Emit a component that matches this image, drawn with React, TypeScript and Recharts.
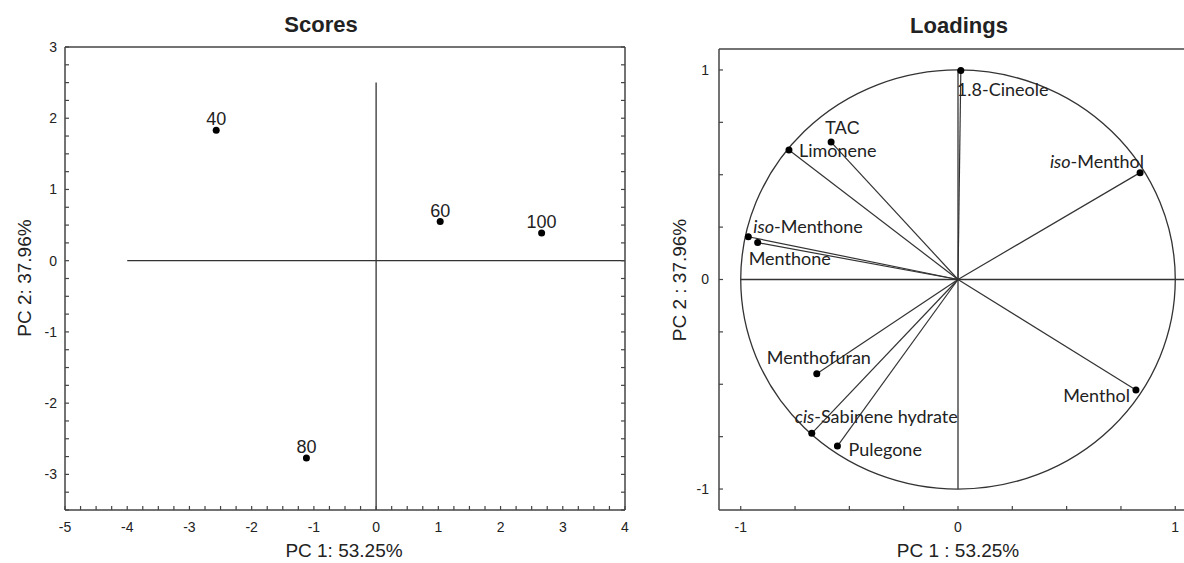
import React from "react";
import {
  ScatterChart,
  Scatter,
  XAxis,
  YAxis,
  ReferenceLine,
  ReferenceArea,
} from "recharts";

// ─── Scores (PCA sample scores) ─────────────────────────────
const scoreLabels = ["40", "60", "80", "100"];
const scorePC1 = [-2.57, 1.03, -1.12, 2.66];
const scorePC2 = [1.83, 0.55, -2.77, 0.39];

const scoreXTicks = [-5, -4, -3, -2, -1, 0, 1, 2, 3, 4];
const scoreYTicks = [-3, -2, -1, 0, 1, 2, 3];

// ─── Loadings (correlation circle) ──────────────────────────
const loadingNames = [
  "1.8-Cineole",
  "TAC",
  "Limonene",
  "iso-Menthone",
  "Menthone",
  "iso-Menthol",
  "Menthofuran",
  "cis-Sabinene hydrate",
  "Pulegone",
  "Menthol",
];
const loadingPC1 = [0.013, -0.584, -0.778, -0.965, -0.922, 0.838, -0.65, -0.673, -0.555, 0.819];
const loadingPC2 = [0.997, 0.656, 0.618, 0.204, 0.176, 0.51, -0.45, -0.734, -0.795, -0.527];

const loadingTicks = [-1, 0, 1];

// ─── Helpers ───────────────────────────────────────────────
const TICK_FONT = "'Liberation Sans', Arial, sans-serif";
const LABEL_FONT = "Lato, 'Open Sans', sans-serif";
const INK = "#222";
const BOX = "#444";

function minorTicks(from: number, to: number, step: number) {
  const out: number[] = [];
  for (let v = from; v <= to + 1e-9; v += step) out.push(Math.round(v * 1000) / 1000);
  return out;
}

const onlyMajor = (major: number[]) => (v: number) =>
  major.includes(Math.round(v * 1000) / 1000) ? String(v) : "";

const scoresData = scoreLabels.map((label, i) => ({
  label,
  x: scorePC1[i],
  y: scorePC2[i],
}));

const loadingsData = loadingNames.map((name, i) => ({
  name,
  x: loadingPC1[i],
  y: loadingPC2[i],
}));

// label placement relative to the dot (pixels)
const loadingLabelPos: Record<string, { dx: number; dy: number; anchor: "start" | "end" }> = {
  "1.8-Cineole": { dx: -4, dy: 25, anchor: "start" },
  TAC: { dx: -6, dy: -8, anchor: "start" },
  Limonene: { dx: 10, dy: 7, anchor: "start" },
  "iso-Menthone": { dx: 5, dy: -4, anchor: "start" },
  Menthone: { dx: -9, dy: 22, anchor: "start" },
  "iso-Menthol": { dx: 4, dy: -5, anchor: "end" },
  Menthofuran: { dx: -50, dy: -10, anchor: "start" },
  "cis-Sabinene hydrate": { dx: -17, dy: -10, anchor: "start" },
  Pulegone: { dx: 11, dy: 10, anchor: "start" },
  Menthol: { dx: -6, dy: 12, anchor: "end" },
};

function renderName(name: string) {
  const m = name.match(/^(iso|cis)-(.*)$/);
  if (!m) return name;
  return (
    <>
      <tspan fontStyle="italic">{m[1]}</tspan>
      <tspan>-{m[2]}</tspan>
    </>
  );
}

// eslint-disable-next-line @typescript-eslint/no-explicit-any
function ScoreDot(props: any) {
  const { cx, cy } = props;
  const p = props.payload ?? props;
  return (
    <g>
      <circle cx={cx} cy={cy} r={3.5} fill="#000" />
      <text
        x={cx}
        y={cy - 5}
        textAnchor="middle"
        fontSize={18}
        fontFamily={TICK_FONT}
        fill={INK}
      >
        {p.label}
      </text>
    </g>
  );
}

// eslint-disable-next-line @typescript-eslint/no-explicit-any
function LoadingDot(props: any) {
  const { cx, cy } = props;
  const p = props.payload ?? props;
  const pos = loadingLabelPos[p.name] ?? { dx: 6, dy: 0, anchor: "start" };
  const isTac = p.name === "TAC";
  return (
    <g>
      <circle cx={cx} cy={cy} r={3.5} fill="#000" />
      <text
        x={cx + pos.dx}
        y={cy + pos.dy}
        textAnchor={pos.anchor}
        fontSize={18}
        fontFamily={isTac ? TICK_FONT : LABEL_FONT}
        fill={INK}
      >
        {renderName(p.name)}
      </text>
    </g>
  );
}

// eslint-disable-next-line @typescript-eslint/no-explicit-any
function UnitEllipse(props: any) {
  const { x, y, width, height } = props;
  return (
    <ellipse
      cx={x + width / 2}
      cy={y + height / 2}
      rx={width / 2}
      ry={height / 2}
      fill="none"
      stroke="#333"
      strokeWidth={1.3}
    />
  );
}

const tickStyle = { fontSize: 14, fill: INK, fontFamily: TICK_FONT };
const axisLine = { stroke: BOX, strokeWidth: 1.5 };
const tickLine = { stroke: BOX, strokeWidth: 1.2 };

// ─── Charts ────────────────────────────────────────────────

function ScoresChart() {
  const xMinor = minorTicks(-5, 4, 0.25);
  const yMinor = minorTicks(-3.5, 3, 0.25);
  return (
    <ScatterChart
      width={640}
      height={563}
      margin={{ top: 46, right: 14, bottom: 23, left: 25 }}
    >
      <XAxis
        type="number"
        dataKey="x"
        domain={[-5, 4]}
        ticks={xMinor}
        interval={0}
        allowDataOverflow
        tickFormatter={onlyMajor(scoreXTicks)}
        tick={tickStyle}
        tickSize={-4}
        tickMargin={16}
        axisLine={axisLine}
        tickLine={tickLine}
        height={30}
      />
      <XAxis
        xAxisId="top"
        orientation="top"
        type="number"
        domain={[-5, 4]}
        ticks={xMinor}
        interval={0}
        allowDataOverflow
        tickFormatter={() => ""}
        tickSize={-4}
        axisLine={axisLine}
        tickLine={tickLine}
        height={1}
      />
      <YAxis
        type="number"
        dataKey="y"
        domain={[-3.5, 3]}
        ticks={yMinor}
        interval={0}
        allowDataOverflow
        tickFormatter={onlyMajor(scoreYTicks)}
        tick={tickStyle}
        tickSize={-4}
        tickMargin={12}
        axisLine={axisLine}
        tickLine={tickLine}
        width={40}
      />
      <YAxis
        yAxisId="right"
        orientation="right"
        type="number"
        domain={[-3.5, 3]}
        ticks={yMinor}
        interval={0}
        allowDataOverflow
        tickFormatter={() => ""}
        tickSize={-4}
        axisLine={axisLine}
        tickLine={tickLine}
        width={1}
      />
      <ReferenceLine
        segment={[{ x: -4, y: 0 }, { x: 4, y: 0 }]}
        stroke="#333"
        strokeWidth={1.3}
      />
      <ReferenceLine
        segment={[{ x: 0, y: -3.5 }, { x: 0, y: 2.5 }]}
        stroke="#333"
        strokeWidth={1.3}
      />
      <Scatter data={scoresData} shape={<ScoreDot />} isAnimationActive={false} />
    </ScatterChart>
  );
}

function LoadingsChart() {
  const xMinorBottom = minorTicks(-1, 1, 0.25);
  const xMinorTop = minorTicks(-1.1, 1.1, 0.1);
  const yMinor = minorTicks(-1, 1, 0.25);
  return (
    <ScatterChart
      width={580}
      height={563}
      margin={{ top: 48, right: 22, bottom: 23, left: 39 }}
    >
      <XAxis
        type="number"
        dataKey="x"
        domain={[-1.1, 1.1]}
        ticks={xMinorBottom}
        interval={0}
        allowDataOverflow
        tickFormatter={onlyMajor(loadingTicks)}
        tick={tickStyle}
        tickSize={-4}
        tickMargin={16}
        axisLine={axisLine}
        tickLine={tickLine}
        height={30}
      />
      <XAxis
        xAxisId="top"
        orientation="top"
        type="number"
        domain={[-1.1, 1.1]}
        ticks={xMinorTop}
        interval={0}
        allowDataOverflow
        tickFormatter={() => ""}
        tickSize={-4}
        axisLine={axisLine}
        tickLine={tickLine}
        height={1}
      />
      <YAxis
        type="number"
        dataKey="y"
        domain={[-1.1, 1.1]}
        ticks={yMinor}
        interval={0}
        allowDataOverflow
        tickFormatter={onlyMajor(loadingTicks)}
        tick={tickStyle}
        tickSize={-4}
        tickMargin={14}
        axisLine={axisLine}
        tickLine={tickLine}
        width={40}
      />
      <YAxis
        yAxisId="right"
        orientation="right"
        type="number"
        domain={[-1.1, 1.1]}
        ticks={yMinor}
        interval={0}
        allowDataOverflow
        tickFormatter={() => ""}
        tickSize={-4}
        axisLine={axisLine}
        tickLine={tickLine}
        width={1}
      />
      <ReferenceArea x1={-1} x2={1} y1={-1} y2={1} shape={UnitEllipse} />
      <ReferenceLine
        segment={[{ x: -1, y: 0 }, { x: 1.1, y: 0 }]}
        stroke="#333"
        strokeWidth={1.3}
      />
      <ReferenceLine
        segment={[{ x: 0, y: -1 }, { x: 0, y: 1 }]}
        stroke="#333"
        strokeWidth={1.3}
      />
      {loadingsData.map((d) => (
        <ReferenceLine
          key={d.name}
          segment={[{ x: 0, y: 0 }, { x: d.x, y: d.y }]}
          stroke="#333"
          strokeWidth={1.2}
        />
      ))}
      <Scatter data={loadingsData} shape={<LoadingDot />} isAnimationActive={false} />
    </ScatterChart>
  );
}

export default function App() {
  return (
    <div
      style={{
        position: "fixed",
        left: 0,
        top: 0,
        width: 1184,
        height: 563,
        overflow: "hidden",
        background: "#fff",
      }}
    >
      <div style={{ position: "absolute", left: 0, top: 0 }}>
        <ScoresChart />
      </div>
      <div style={{ position: "absolute", left: 640, top: 0 }}>
        <LoadingsChart />
      </div>
      <svg
        width={1184}
        height={563}
        style={{ position: "absolute", left: 0, top: 0, pointerEvents: "none" }}
        fontFamily={TICK_FONT}
        fill={INK}
      >
        <text x={321} y={32} textAnchor="middle" fontSize={22} fontWeight="bold">
          Scores
        </text>
        <text x={959} y={33} textAnchor="middle" fontSize={22} fontWeight="bold">
          Loadings
        </text>
        <text x={344} y={557} textAnchor="middle" fontSize={19}>
          PC 1: 53.25%
        </text>
        <text x={958} y={557} textAnchor="middle" fontSize={19}>
          PC 1 : 53.25%
        </text>
        <text
          transform="translate(31,278) rotate(-90)"
          textAnchor="middle"
          fontSize={19}
        >
          PC 2: 37.96%
        </text>
        <text
          transform="translate(686,280) rotate(-90)"
          textAnchor="middle"
          fontSize={19}
        >
          PC 2 : 37.96%
        </text>
      </svg>
    </div>
  );
}
